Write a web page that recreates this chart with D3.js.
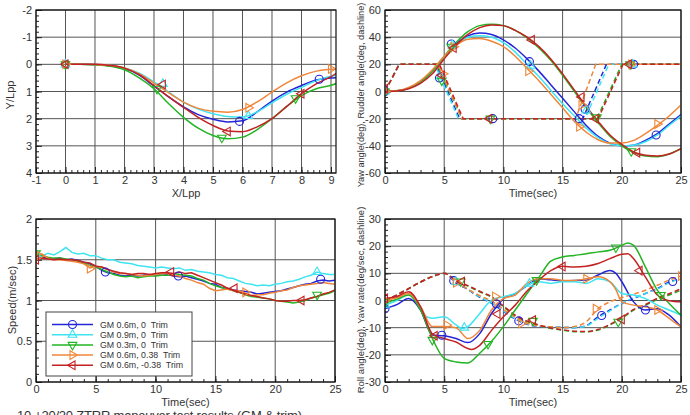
<!DOCTYPE html>
<html>
<head>
<meta charset="utf-8">
<script src="https://cdn.jsdelivr.net/npm/d3@7"></script>
<style>
  body { margin: 0; background: #fff; }
  text { font-family: "Liberation Sans", Arial, sans-serif; }
</style>
</head>
<body>
<svg id="chart" width="690" height="415"></svg>
<script>
// series (same order everywhere)
var seriesNames = ["GM 0.6m, 0  Trim", "GM 0.9m, 0  Trim", "GM 0.3m, 0  Trim", "GM 0.6m, 0.38  Trim", "GM 0.6m, -0.38  Trim"];
var seriesColors = ["#2424d8", "#3ee4f2", "#22b422", "#f0863a", "#c42222"];
var seriesSymbols = ["circle", "up", "down", "right", "left"];

// ---- trajectory (X/Lpp, Y/Lpp)
var trajX = [0, 0.5, 1, 1.5, 2, 2.5, 3, 3.5, 4, 4.5, 5, 5.5, 6, 6.5, 7, 7.5, 8, 8.5, 9, 9.2];
var trajBlue   = [0, 0, 0.01, 0.05, 0.15, 0.4, 0.8, 1.2, 1.57, 1.85, 2.02, 2.12, 2.08, 1.75, 1.35, 1.02, 0.78, 0.58, 0.5, 0.49];
var trajCyan   = [0, 0, 0.01, 0.04, 0.13, 0.33, 0.65, 1.02, 1.39, 1.65, 1.82, 1.92, 1.94, 1.75, 1.42, 1.1, 0.85, 0.6, 0.44, 0.41];
var trajGreen  = [0, 0, 0.02, 0.07, 0.2, 0.5, 0.9, 1.45, 1.95, 2.35, 2.62, 2.74, 2.68, 2.4, 2.0, 1.55, 1.15, 0.9, 0.77, 0.7];
var trajOrange = [0, 0, 0.01, 0.04, 0.13, 0.35, 0.69, 1.05, 1.39, 1.62, 1.73, 1.76, 1.66, 1.38, 1.02, 0.68, 0.42, 0.25, 0.18, 0.17];
var trajRed    = [0, 0, 0, 0.04, 0.14, 0.38, 0.78, 1.2, 1.58, 1.95, 2.25, 2.45, 2.48, 2.3, 2.0, 1.55, 1.08, 0.72, 0.45, 0.32];
var trajMarks = [
  [[0, 0], [5.9, 2.1], [8.6, 0.55]],
  [[0, 0], [3.3, 0.72], [6.2, 1.9]],
  [[0, 0], [3.1, 0.9], [5.3, 2.7], [7.8, 1.25]],
  [[0, 0], [6.2, 1.6], [9.0, 0.17]],
  [[0, 0], [3.3, 0.74], [5.5, 2.47], [8.0, 1.08]]
];

// ---- yaw angle (solid) and rudder angle (dashed)
var tSec = [0, 1, 2, 3, 4, 5, 6, 7, 8, 9, 10, 11, 12, 13, 14, 15, 16, 17, 18, 19, 20, 21, 22, 23, 24, 25];
var yawBlue   = [0, 0.5, 2.5, 7, 15, 25, 35, 41, 43, 42, 38, 32, 24, 15, 5, -5, -15, -25, -33, -38, -40, -39.5, -36, -31, -24, -17];
var yawCyan   = [0, 0.5, 2.5, 7, 15, 25, 34, 40, 41, 40, 36, 29, 20, 11, 1, -9, -18, -27, -34, -38.5, -40, -39.5, -37, -32, -25, -18];
var yawGreen  = [0, 0.5, 2.5, 7, 15, 26, 36, 44, 48.5, 49.5, 48.5, 45, 39.5, 32, 23, 12, 0, -12, -23, -33, -40, -45, -47.5, -48, -46, -42];
var yawOrange = [0, 0.5, 3, 8, 16, 26, 34, 38.5, 39, 37, 33, 26, 17, 8, -2, -12, -22, -30, -35.5, -38, -38, -36, -31, -25, -18, -10];
var yawRed    = [0, 0.3, 2, 6, 13, 24, 34, 42, 47, 49, 48.5, 45, 40, 33, 24, 13, 1, -11, -22, -32, -39, -44.5, -47, -47.5, -46, -42];
var rudBlue   = [[0, 0], [1.2, 20], [4.3, 20], [6.3, -20], [16.7, -20], [18.7, 20], [25, 20]];
var rudCyan   = [[0, 0], [1.2, 20], [4.2, 20], [6.2, -20], [16.9, -20], [18.9, 20], [25, 20]];
var rudGreen  = [[0, 0], [1.2, 20], [4.4, 20], [6.5, -20], [17.9, -20], [20.0, 20], [25, 20]];
var rudOrange = [[0, 0], [1.2, 20], [4.5, 20], [6.5, -20], [16.1, -20], [17.8, 20], [25, 20]];
var rudRed    = [[0, 0], [1.2, 20], [4.6, 20], [6.6, -20], [18.0, -20], [20.1, 20], [25, 20]];
var yawMarks = [
  [[0, 0], [5.6, 35], [12.2, 22], [16.4, -20], [22.9, -32], [4.6, 10], [9.1, -20], [16.9, -13], [21, 20]],
  [[0, 0], [5.7, 34], [12.3, 19], [4.7, 11], [17, -14], [20.9, 20]],
  [[0, 0], [5.6, 33], [20.8, -44], [4.8, 8], [8.9, -20], [17.9, -19], [20.7, 20]],
  [[0, 0], [5.8, 33], [12.1, 15], [16.4, -26], [23, -24], [4.9, 13], [16.6, -10], [20.8, 20]],
  [[0, 2], [5.8, 32], [12.4, 38], [16.6, -4], [21.3, -45], [4.8, 12], [8.8, -20], [17.8, -20], [20.6, 20]]
];

// ---- speed (m/sec), sampled every 0.5 s
var tHalf = [0, 0.5, 1, 1.5, 2, 2.5, 3, 3.5, 4, 4.5, 5, 5.5, 6, 6.5, 7, 7.5, 8, 8.5, 9, 9.5, 10, 10.5, 11, 11.5, 12, 12.5,
             13, 13.5, 14, 14.5, 15, 15.5, 16, 16.5, 17, 17.5, 18, 18.5, 19, 19.5, 20, 20.5, 21, 21.5, 22, 22.5, 23, 23.5, 24, 24.5, 25];
var spdBlue   = [1.5, 1.53, 1.52, 1.51, 1.52, 1.5, 1.51, 1.49, 1.47, 1.45, 1.42, 1.37, 1.34, 1.33, 1.31, 1.3, 1.31, 1.3, 1.31, 1.32, 1.31, 1.33, 1.32, 1.3, 1.29, 1.3,
                 1.28, 1.26, 1.24, 1.21, 1.2, 1.16, 1.15, 1.13, 1.12, 1.11, 1.1, 1.08, 1.09, 1.1, 1.11, 1.12, 1.14, 1.16, 1.18, 1.2, 1.21, 1.24, 1.25, 1.24, 1.25];
var spdCyan   = [1.57, 1.55, 1.58, 1.56, 1.6, 1.65, 1.59, 1.57, 1.58, 1.55, 1.55, 1.52, 1.5, 1.5, 1.47, 1.46, 1.45, 1.43, 1.42, 1.41, 1.4, 1.41, 1.4, 1.39, 1.4, 1.37,
                 1.38, 1.36, 1.35, 1.34, 1.32, 1.31, 1.28, 1.27, 1.24, 1.21, 1.2, 1.18, 1.19, 1.18, 1.2, 1.21, 1.23, 1.24, 1.26, 1.29, 1.31, 1.35, 1.33, 1.32, 1.32];
var spdGreen  = [1.57, 1.55, 1.53, 1.52, 1.52, 1.51, 1.5, 1.48, 1.46, 1.43, 1.41, 1.38, 1.35, 1.32, 1.3, 1.29, 1.3, 1.28, 1.29, 1.3, 1.3, 1.31, 1.31, 1.33, 1.32, 1.31,
                 1.3, 1.27, 1.25, 1.21, 1.18, 1.16, 1.14, 1.12, 1.1, 1.07, 1.05, 1.04, 1.03, 1.02, 1.0, 0.99, 0.98, 0.97, 0.98, 1.0, 1.03, 1.05, 1.07, 1.09, 1.12];
var spdOrange = [1.55, 1.57, 1.52, 1.5, 1.5, 1.49, 1.48, 1.47, 1.45, 1.4, 1.42, 1.41, 1.38, 1.35, 1.33, 1.33, 1.32, 1.31, 1.3, 1.31, 1.32, 1.33, 1.33, 1.31, 1.3, 1.27,
                 1.25, 1.22, 1.2, 1.15, 1.12, 1.13, 1.14, 1.12, 1.12, 1.09, 1.06, 1.07, 1.07, 1.09, 1.1, 1.12, 1.13, 1.16, 1.18, 1.19, 1.2, 1.21, 1.22, 1.21, 1.2];
var spdRed    = [1.5, 1.52, 1.51, 1.5, 1.51, 1.5, 1.5, 1.49, 1.47, 1.46, 1.42, 1.41, 1.38, 1.36, 1.34, 1.33, 1.32, 1.33, 1.33, 1.32, 1.33, 1.34, 1.34, 1.33, 1.35, 1.33,
                 1.34, 1.31, 1.28, 1.25, 1.22, 1.19, 1.15, 1.13, 1.1, 1.08, 1.06, 1.05, 1.03, 1.02, 1.0, 0.99, 0.99, 1.0, 1.0, 1.01, 1.03, 1.05, 1.08, 1.1, 1.13];
var spdMarks = [
  [[5.8, 1.35], [11.9, 1.3], [23.8, 1.26]],
  [[0, 1.57], [23.5, 1.35]],
  [[0, 1.58], [23.5, 1.07]],
  [[0.3, 1.55], [4.5, 1.39], [17.5, 1.1]],
  [[0, 1.5], [11.3, 1.35], [16.6, 1.15], [22.2, 1.0]]
];

// ---- roll angle (solid) and yaw rate (dashed)
var rollBlue   = [[0, -3], [1, -1.5], [2, 0.7], [3, -3.5], [4, -12.7], [5, -13], [6, -14], [7, -15.5], [8, -12.2], [9, -4.8], [10, 0.6], [11, 2.5], [12, 5.5], [13, 8],
                  [14, 7.6], [15, 7.2], [16, 7.4], [17, 7.5], [18, 9.4], [19, 11], [19.5, 10], [20, 6.9], [21, -0.5], [22, -3.5], [23, -3], [24, -5.4], [25, -9.7]];
var rollCyan   = [[0, -1.7], [1, 0], [2, 2], [3, -2.3], [3.5, -6], [4, -6.5], [5, -6], [6, -9], [6.5, -10.3], [7, -9.6], [8, -4.8], [9, 0.1], [10, 1.4], [11, 2.6], [12, 5.6],
                  [13, 6.9], [14, 6.3], [15, 6.9], [16, 6.9], [17, 6.3], [18, 8], [19, 6.9], [20, 2.6], [21, 2], [22, 0.7], [23, -1.7], [24, -3.5], [25, -5.4]];
var rollGreen  = [[0, -1], [1, 0.5], [2, 2], [3, -3.5], [4, -14], [5, -21.3], [6, -22.6], [7, -23], [8, -19.4], [9, -15], [10, -9.6], [11, -3.5], [12, 2.6], [13, 8.5],
                  [14, 14.5], [15, 16], [16, 16.6], [17, 17.2], [18, 17.9], [19, 18.5], [20, 20.3], [20.5, 21.2], [21, 20.3], [22, 12.3], [23, 3.8], [24, -1.1], [25, -5.4]];
var rollOrange = [[0, 0], [1, 1], [2, 2.6], [3, -2.3], [4, -9.6], [5, -9.6], [6, -10], [7, -14], [8, -11], [9, -3.5], [10, 0.7], [11, 2], [12, 6.3], [13, 8], [14, 8],
                  [15, 7.4], [16, 7.4], [17, 8], [18, 8.7], [19, 6.9], [19.5, 4], [20, -0.5], [21, -1.7], [22, -2.3], [23, -3.5], [24, -6.6], [25, -9.7]];
var rollRed    = [[0, 0.7], [1, 1.5], [2, 3.2], [3, -2.3], [4, -12.3], [4.5, -13.4], [5, -14], [6, -15.3], [7, -17.7], [7.3, -18], [8, -16.5], [9, -11], [10, -6], [11, -1.7],
                  [12, 3.5], [13, 7.5], [14, 11], [15, 12.6], [16, 12.3], [17, 12.6], [18, 13.6], [19, 15.4], [20, 17], [20.5, 17.2], [21, 15.4], [22, 8.6], [23, 2], [24, -0.1], [25, -0.5]];
var yrBlue   = [0, 2, 4.4, 6.8, 8.8, 10, 6.5, 4, 1.2, -1, -4, -6.8, -8.8, -9.5, -9.8, -9.9, -10, -9.2, -6, -3.5, -1.1, 0.7, 2.6, 4.4, 6.8, 8];
var yrCyan   = [0, 2, 4.4, 6.8, 8.8, 10, 6.8, 4.2, 1.4, -0.8, -3.8, -6.6, -8.6, -9.4, -9.7, -9.9, -10, -9.4, -6.5, -3.8, -1, 1, 2.6, 4.2, 6.5, 8];
var yrGreen  = [0, 2, 4.4, 6.8, 8.8, 10, 7.3, 5.3, 3.2, 1.2, -2.3, -5.7, -7.8, -9.2, -10.3, -10.9, -11.5, -11.5, -10.9, -9, -6.6, -3.5, -1.7, 0.4, 2, 3.8];
var yrOrange = [0, 2, 4.4, 6.8, 8.8, 10, 6.8, 4.2, 1.8, -0.2, -3.2, -6.2, -8.4, -9.3, -9.7, -10, -9.6, -7.8, -3, -0.5, 1.1, 2.3, 3.8, 5.6, 7.5, 9];
var yrRed    = [0, 2, 4.4, 6.8, 8.8, 10, 7.4, 5.5, 3.4, 1.4, -2, -5.4, -7.6, -9, -10.1, -10.8, -11.3, -11.4, -10.7, -8.8, -6.3, -3.3, -1.5, 0.8, 2.5, 4.3];
var rollMarks = [
  [[0, -3], [4.8, -12.8], [9.4, -1.2], [22, -3.5], [5.8, 7.3], [11.3, -7.5], [18.3, -5.5], [24.3, 7]],
  [[0, -1.5], [6.7, -10], [12.2, 6.2], [6, 6.8]],
  [[0, -0.5], [4, -14.5], [8.7, -16], [12.8, 7.5], [19.5, 19.5], [23.3, 2], [6.4, 7], [12.5, -7.5], [19.7, -7.8]],
  [[0, 0], [5.2, -9], [9.3, 1.5], [17, 8], [23, -3.5], [6, 6.5], [11.5, -8.5], [17.8, -3], [25, 9]],
  [[0, 0.8], [4.2, -13], [9.5, -5], [15, 12.5], [21.5, 11], [6.5, 7], [12.5, -7.2], [20, -7]]
];

function pairs(xs, ys) { return xs.map(function (v, i) { return [v, ys[i]]; }); }

var svg = d3.select("#chart");
var clipCount = 0;

function makePanel(cfg) {
  var x = d3.scaleLinear().domain(cfg.xDomain).range([cfg.left, cfg.right]);
  var y = d3.scaleLinear().domain(cfg.yDomain).range([cfg.bottom, cfg.top]);
  var g = svg.append("g");
  var id = "clip" + (clipCount++);
  svg.append("clipPath").attr("id", id).append("rect")
    .attr("x", cfg.left).attr("y", cfg.top)
    .attr("width", cfg.right - cfg.left).attr("height", cfg.bottom - cfg.top);

  // grid
  g.selectAll(null).data(cfg.xTicks).enter().append("line")
    .attr("x1", d => x(d)).attr("x2", d => x(d))
    .attr("y1", cfg.top).attr("y2", cfg.bottom)
    .attr("stroke", "#555").attr("stroke-width", 1);
  g.selectAll(null).data(cfg.yTicks).enter().append("line")
    .attr("x1", cfg.left).attr("x2", cfg.right)
    .attr("y1", d => y(d)).attr("y2", d => y(d))
    .attr("stroke", "#555").attr("stroke-width", 1);

  // axes, ticks pointing inside
  var xa = g.append("g").attr("transform", `translate(0,${cfg.bottom})`);
  xa.append("g").call(d3.axisBottom(x).tickValues(cfg.xMinor).tickSize(-3).tickFormat(""));
  xa.append("g").call(d3.axisBottom(x).tickValues(cfg.xTicks).tickSize(-6).tickPadding(3).tickFormat(d => d));
  var ya = g.append("g").attr("transform", `translate(${cfg.left},0)`);
  ya.append("g").call(d3.axisLeft(y).tickValues(cfg.yMinor).tickSize(-3).tickFormat(""));
  ya.append("g").call(d3.axisLeft(y).tickValues(cfg.yTicks).tickSize(-6).tickPadding(4).tickFormat(d => d));
  g.selectAll(".domain").remove();
  g.selectAll(".tick line").attr("stroke", "#222");
  g.selectAll(".tick text").attr("font-size", 11).attr("fill", "#333")
    .style("font-family", '"Liberation Sans", Arial, sans-serif');

  // titles
  g.append("text")
    .attr("x", (cfg.left + cfg.right) / 2).attr("y", cfg.bottom + 24)
    .attr("text-anchor", "middle").attr("font-size", 11).attr("fill", "#333")
    .text(cfg.xTitle);
  g.append("text")
    .attr("transform", `translate(${cfg.yTitleX},${cfg.yTitleY}) rotate(-90)`)
    .attr("text-anchor", "middle").attr("font-size", cfg.yTitleSize).attr("fill", "#333")
    .text(cfg.yTitle);

  var plot = svg.append("g").attr("clip-path", `url(#${id})`);
  return { x: x, y: y, g: g, plot: plot, cfg: cfg };
}

function drawLine(p, data, color, dashed, curve) {
  var line = d3.line().x(d => p.x(d[0])).y(d => p.y(d[1])).curve(curve || d3.curveMonotoneX);
  p.plot.append("path").datum(data)
    .attr("d", line)
    .attr("fill", "none")
    .attr("stroke", color)
    .attr("stroke-width", 1.5)
    .attr("stroke-dasharray", dashed ? "5,3" : null);
}

function symbolPath(sym, cx, cy) {
  var r = 5;
  var a0 = { up: -90, down: 90, right: 0, left: 180 }[sym];
  var pts = [0, 120, 240].map(function (a) {
    var t = (a0 + a) * Math.PI / 180;
    return [cx + r * Math.cos(t), cy + r * Math.sin(t)];
  });
  return "M" + pts.join("L") + "Z";
}

function drawMarker(sel, sym, cx, cy, color) {
  if (sym === "circle") {
    sel.append("circle").attr("cx", cx).attr("cy", cy).attr("r", 4)
      .attr("fill", "none").attr("stroke", color).attr("stroke-width", 1.1);
  } else {
    sel.append("path").attr("d", symbolPath(sym, cx, cy))
      .attr("fill", "none").attr("stroke", color).attr("stroke-width", 1.1);
  }
}

function drawMarks(p, marks) {
  marks.forEach(function (list, i) {
    list.forEach(function (m) {
      drawMarker(p.plot, seriesSymbols[i], p.x(m[0]), p.y(m[1]), seriesColors[i]);
    });
  });
}

function border(p) {
  var c = p.cfg;
  svg.append("rect")
    .attr("x", c.left).attr("y", c.top)
    .attr("width", c.right - c.left).attr("height", c.bottom - c.top)
    .attr("fill", "none").attr("stroke", "#111").attr("stroke-width", 1.2);
}

// Panel 1: trajectory
var p1 = makePanel({
  left: 36, right: 336, top: 10, bottom: 173,
  xDomain: [-1, 9.17], yDomain: [4, -2],
  xTicks: [-1, 0, 1, 2, 3, 4, 5, 6, 7, 8, 9], xMinor: d3.range(-1, 9.2, 0.2),
  yTicks: [-2, -1, 0, 1, 2, 3, 4], yMinor: d3.range(-2, 4.01, 0.2),
  xTitle: "X/Lpp", yTitle: "Y/Lpp", yTitleX: 14, yTitleY: 95, yTitleSize: 11
});
[trajBlue, trajCyan, trajGreen, trajOrange, trajRed].forEach(function (s, i) {
  drawLine(p1, pairs(trajX, s), seriesColors[i], false);
});
drawMarks(p1, trajMarks);
border(p1);

// Panel 2: yaw & rudder
var p2 = makePanel({
  left: 385, right: 681, top: 10, bottom: 173,
  xDomain: [0, 25], yDomain: [-60, 60],
  xTicks: [0, 5, 10, 15, 20, 25], xMinor: d3.range(0, 25.01, 1),
  yTicks: [-60, -40, -20, 0, 20, 40, 60], yMinor: d3.range(-60, 60.01, 4),
  xTitle: "Time(sec)", yTitle: "Yaw angle(deg), Rudder angle(deg, dashline)",
  yTitleX: 363.5, yTitleY: 95, yTitleSize: 9.2
});
[rudBlue, rudCyan, rudGreen, rudOrange, rudRed].forEach(function (s, i) {
  drawLine(p2, s, seriesColors[i], true, d3.curveLinear);
});
[yawBlue, yawCyan, yawGreen, yawOrange, yawRed].forEach(function (s, i) {
  drawLine(p2, pairs(tSec, s), seriesColors[i], false);
});
drawMarks(p2, yawMarks);
border(p2);

// Panel 3: speed
var p3 = makePanel({
  left: 36, right: 335, top: 219, bottom: 382,
  xDomain: [0, 25], yDomain: [0, 2],
  xTicks: [0, 5, 10, 15, 20, 25], xMinor: d3.range(0, 25.01, 1),
  yTicks: [0, 0.5, 1, 1.5, 2], yMinor: d3.range(0, 2.01, 0.1),
  xTitle: "Time(sec)", yTitle: "Speed(m/sec)", yTitleX: 16, yTitleY: 300, yTitleSize: 11
});
[spdBlue, spdCyan, spdGreen, spdOrange, spdRed].forEach(function (s, i) {
  drawLine(p3, pairs(tHalf, s), seriesColors[i], false, d3.curveLinear);
});
drawMarks(p3, spdMarks);
border(p3);

// legend
var leg = svg.append("g");
leg.append("rect").attr("x", 46).attr("y", 312).attr("width", 146).attr("height", 64)
  .attr("fill", "#fff").attr("stroke", "#444").attr("stroke-width", 1);
seriesNames.forEach(function (name, i) {
  var yy = 324.5 + i * 10.2;
  leg.append("line").attr("x1", 52).attr("x2", 93).attr("y1", yy).attr("y2", yy)
    .attr("stroke", seriesColors[i]).attr("stroke-width", 1.5);
  drawMarker(leg, seriesSymbols[i], 72.5, yy, seriesColors[i]);
  leg.append("text").attr("x", 100).attr("y", yy + 3).attr("font-size", 8.8).attr("fill", "#333")
    .style("white-space", "pre").attr("xml:space", "preserve").text(name);
});

// Panel 4: roll & yaw rate
var p4 = makePanel({
  left: 385, right: 681, top: 219, bottom: 382,
  xDomain: [0, 25], yDomain: [-30, 30],
  xTicks: [0, 5, 10, 15, 20, 25], xMinor: d3.range(0, 25.01, 1),
  yTicks: [-30, -20, -10, 0, 10, 20, 30], yMinor: d3.range(-30, 30.01, 2),
  xTitle: "Time(sec)", yTitle: "Roll angle(deg), Yaw rate(deg/sec, dashline)",
  yTitleX: 363.5, yTitleY: 300, yTitleSize: 9.5
});
[yrBlue, yrCyan, yrGreen, yrOrange, yrRed].forEach(function (s, i) {
  drawLine(p4, pairs(tSec, s), seriesColors[i], true);
});
[rollBlue, rollCyan, rollGreen, rollOrange, rollRed].forEach(function (s, i) {
  drawLine(p4, s, seriesColors[i], false);
});
drawMarks(p4, rollMarks);
border(p4);

// caption, partly below the bottom edge as in the source
svg.append("text").attr("x", 17).attr("y", 419.5).attr("font-size", 13).attr("fill", "#333")
  .attr("textLength", 285)
  .text("10 ±20/20 ZTRR maneuver test results (GM & trim)");
</script>
</body>
</html>
